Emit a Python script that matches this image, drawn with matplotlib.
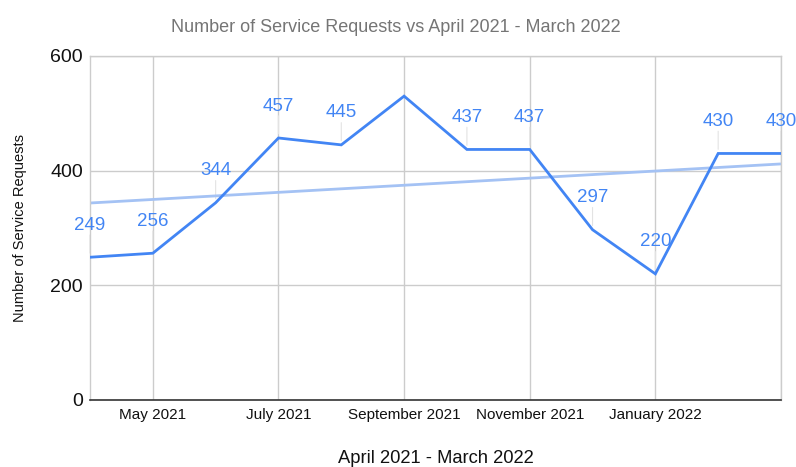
import numpy as np
import matplotlib.pyplot as plt

plt.rcParams['font.family'] = ['Liberation Sans', 'DejaVu Sans']

months = ['April 2021', 'May 2021', 'June 2021', 'July 2021', 'August 2021',
          'September 2021', 'October 2021', 'November 2021', 'December 2021',
          'January 2022', 'February 2022', 'March 2022']
requests = [249, 256, 344, 457, 445, 530, 437, 437, 297, 220, 430, 430]
# months whose value gets a data label (the peak has none)
labelled = [True, True, True, True, True, False, True, True, True, True, True, True]

BLUE = '#4285f4'
TREND = '#a4c2f4'
GRID = '#cccccc'

x = np.arange(len(months))
y = np.array(requests)

fig = plt.figure(figsize=(7.96, 4.67), dpi=100)
ax = fig.add_axes([90 / 796, 1 - 400 / 467, (781 - 90) / 796, (400 - 56) / 467])

# linear trendline
k, b = np.polyfit(x, y, 1)
ax.plot(x, k * x + b, color=TREND, lw=2.0, zorder=2, solid_capstyle='butt')
ax.plot(x, y, color=BLUE, lw=2.0, zorder=3, solid_joinstyle='miter')

# data labels with short leader lines
for xi, yi, show in zip(x, y, labelled):
    if not show:
        continue
    ax.annotate(str(yi), xy=(xi, yi), xytext=(0, 23), textcoords='offset points',
                ha='center', va='center', color=BLUE, fontsize=13.5, zorder=4)
    ax.annotate('', xy=(xi, yi), xytext=(0, 16), textcoords='offset points',
                arrowprops=dict(arrowstyle='-', color='#e3e3e3', lw=0.8,
                                shrinkA=0, shrinkB=3), zorder=1)

ax.set_xlim(0, len(months) - 1)
ax.set_ylim(0, 600)
ax.set_yticks([0, 200, 400, 600])
ax.set_xticks(x[1::2][:-1])
ax.set_xticklabels([months[i] for i in x[1::2][:-1]])
ax.set_xticks(x[1::2], minor=True)

ax.grid(True, which='major', color=GRID, lw=1.0)
ax.grid(True, which='minor', axis='x', color=GRID, lw=1.0)
ax.set_axisbelow(True)

for side in ['top', 'right', 'left']:
    ax.spines[side].set_color(GRID)
    ax.spines[side].set_linewidth(1.0)
ax.spines['bottom'].set_color('#333333')
ax.spines['bottom'].set_linewidth(1.2)

ax.tick_params(axis='both', which='both', length=0)
ax.tick_params(axis='y', labelsize=14, pad=5, labelcolor='#111111')
ax.tick_params(axis='x', labelsize=11, pad=6, labelcolor='#111111')

ax.set_xlabel('April 2021 - March 2022', fontsize=13.2, labelpad=20, color='#111111')
ax.set_ylabel('Number of Service Requests', fontsize=10.5, labelpad=17, color='#111111')

fig.suptitle('Number of Service Requests vs April 2021 - March 2022',
             x=0.497, y=0.96, fontsize=13, color='#757575')

fig.savefig('out.png', dpi=100)
